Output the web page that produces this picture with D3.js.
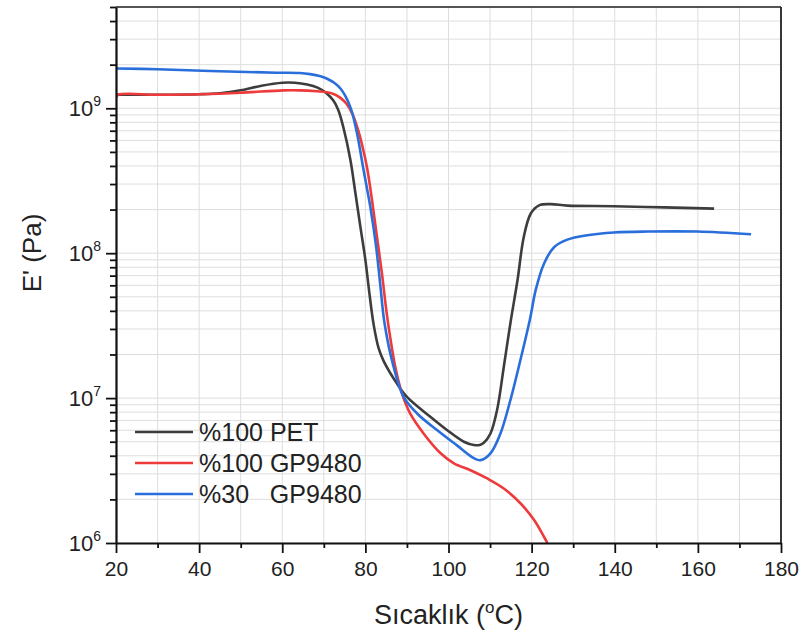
<!DOCTYPE html>
<html>
<head>
<meta charset="utf-8">
<script src="https://cdn.jsdelivr.net/npm/d3@7"></script>
<style>
  html, body { margin: 0; padding: 0; background: #fff; }
  svg { display: block; font-family: "Liberation Sans", Arial, sans-serif; }
  text { white-space: pre; }
</style>
</head>
<body>
<svg id="chart" width="803" height="634"></svg>
<script>
// Storage modulus E' (Pa) versus temperature (°C)
const seriesNames = ["%100 PET", "%100 GP9480", "%30   GP9480"];
const seriesColors = ["#3d3d3d", "#ee3a3a", "#2a6edb"];

const pet100 = [
  [20, 1.24e9], [30, 1.24e9], [40, 1.25e9], [45, 1.27e9], [50, 1.33e9], [55, 1.43e9],
  [60, 1.50e9], [63, 1.50e9], [66, 1.46e9], [68.5, 1.39e9], [70.5, 1.28e9], [72.3, 1.13e9],
  [73.5, 9.7e8], [74.7, 7.4e8], [76.4, 4.4e8], [77.6, 2.6e8], [78.8, 1.52e8], [80.0, 9.0e7],
  [81.0, 5.2e7], [82.0, 3.2e7], [83.2, 2.2e7], [84.4, 1.80e7], [87.6, 1.26e7], [90.0, 1.02e7],
  [95.7, 7.4e6], [99.7, 6.0e6], [103.7, 5.0e6], [106.1, 4.74e6], [107.5, 4.75e6], [108.5, 4.92e6],
  [110.1, 5.7e6], [111.7, 8.3e6], [113.3, 1.64e7], [114.9, 3.3e7], [116.6, 6.5e7],
  [118.1, 1.29e8], [119.8, 1.88e8], [121.8, 2.14e8], [124.6, 2.18e8], [128.6, 2.13e8],
  [139.8, 2.11e8], [151.9, 2.07e8], [163.9, 2.03e8]
];

const gp100 = [
  [20, 1.18e9], [20.5, 1.24e9], [30, 1.24e9], [40, 1.25e9], [50, 1.28e9], [60.3, 1.33e9],
  [64.3, 1.33e9], [68.4, 1.31e9], [70.8, 1.29e9], [72.5, 1.25e9], [74.0, 1.18e9], [75.5, 1.07e9],
  [77.0, 9.0e8], [78.3, 7.0e8], [79.4, 5.3e8], [80.4, 3.9e8], [81.6, 2.32e8], [82.8, 1.29e8],
  [84.0, 7.2e7], [85.1, 3.9e7], [86.0, 2.6e7], [87.2, 1.64e7], [88.8, 1.08e7], [90.8, 7.8e6],
  [94.0, 5.7e6], [98.1, 4.16e6], [101.3, 3.55e6], [105.3, 3.18e6], [109.3, 2.79e6], [113.3, 2.38e6],
  [117.3, 1.88e6], [120.6, 1.44e6], [123.0, 1.10e6], [123.8, 1.0e6]
];

const gp30 = [
  [20, 1.88e9], [30, 1.86e9], [42.7, 1.81e9], [58.7, 1.76e9], [64.3, 1.75e9], [66.7, 1.72e9],
  [69.0, 1.67e9], [70.8, 1.60e9], [72.5, 1.50e9], [74.0, 1.37e9], [75.3, 1.20e9], [76.6, 9.8e8],
  [78.0, 6.7e8], [79.6, 3.7e8], [81.2, 2.08e8], [82.6, 1.10e8], [83.6, 6.0e7], [84.6, 3.3e7],
  [86.8, 1.64e7], [89.2, 1.02e7], [92.5, 7.8e6], [97.3, 6.0e6], [102.1, 4.7e6], [106.1, 3.85e6],
  [107.7, 3.73e6], [110.1, 4.16e6], [112.5, 5.7e6], [114.9, 9.7e6], [117.3, 1.83e7],
  [119.6, 3.5e7], [121.0, 5.6e7], [123.0, 8.5e7], [125.4, 1.10e8], [128.6, 1.24e8],
  [133.4, 1.33e8], [139.8, 1.39e8], [147.9, 1.41e8], [159.9, 1.41e8], [172.8, 1.35e8]
];

const allSeries = [pet100, gp100, gp30];

const xTicks = [20, 40, 60, 80, 100, 120, 140, 160, 180];
const xMinorTicks = [30, 50, 70, 90, 110, 130, 150, 170];
const yDecades = [6, 7, 8, 9];

const svg = d3.select("#chart");
const margin = { left: 116, right: 22, top: 7, bottom: 91 };
const W = 803, H = 634;
const x0 = margin.left, x1 = W - margin.right;
const y0 = margin.top, y1 = H - margin.bottom;

const x = d3.scaleLinear().domain([20, 180]).range([x0, x1]);
const y = d3.scaleLog().domain([1e6, 5e9]).range([y1, y0]);

// minor values for the log axis: 2..9 × each decade, within domain
const yMinor = [];
yDecades.forEach(e => {
  for (let m = 2; m <= 9; m++) {
    const v = m * Math.pow(10, e);
    if (v <= 5e9) yMinor.push(v);
  }
});
const yMajor = yDecades.map(e => Math.pow(10, e));

// grid
const grid = svg.append("g").attr("stroke", "#dedede").attr("stroke-width", 1);
xTicks.concat(xMinorTicks).forEach(v => {
  grid.append("line").attr("x1", x(v)).attr("x2", x(v)).attr("y1", y0).attr("y2", y1);
});
yMajor.concat(yMinor).forEach(v => {
  grid.append("line").attr("x1", x0).attr("x2", x1).attr("y1", y(v)).attr("y2", y(v));
});

// curves
const line = d3.line()
  .x(d => x(d[0]))
  .y(d => y(d[1]))
  .curve(d3.curveCatmullRom.alpha(0.5));

svg.append("clipPath").attr("id", "plotclip")
  .append("rect").attr("x", x0).attr("y", y0).attr("width", x1 - x0).attr("height", y1 - y0);

svg.append("g").attr("clip-path", "url(#plotclip)")
  .selectAll("path")
  .data(allSeries)
  .join("path")
  .attr("d", line)
  .attr("fill", "none")
  .attr("stroke", (d, i) => seriesColors[i])
  .attr("stroke-width", 2.6)
  .attr("stroke-linejoin", "round");

// frame
svg.append("line").attr("x1", x0).attr("x2", x1).attr("y1", y0).attr("y2", y0)
  .attr("stroke", "#222").attr("stroke-width", 1.6);
svg.append("line").attr("x1", x1).attr("x2", x1).attr("y1", y0).attr("y2", y1)
  .attr("stroke", "#222").attr("stroke-width", 1.8);

// x axis
const xAxis = svg.append("g").attr("transform", `translate(0,${y1})`)
  .call(d3.axisBottom(x).tickValues(xTicks).tickSize(10).tickSizeOuter(0).tickFormat(d3.format("d")));
svg.append("g").attr("transform", `translate(0,${y1})`)
  .call(d3.axisBottom(x).tickValues(xMinorTicks).tickSize(5).tickSizeOuter(0).tickFormat(""))
  .call(g => g.select(".domain").remove());
xAxis.selectAll("text").attr("font-size", 21).attr("fill", "#222").attr("dy", "0.95em")
  .style("font-family", "'Liberation Sans', Arial, sans-serif");

// y axis
const yAxis = svg.append("g").attr("transform", `translate(${x0},0)`)
  .call(d3.axisLeft(y).tickValues(yMajor).tickSize(10).tickSizeOuter(0).tickFormat(""));
svg.append("g").attr("transform", `translate(${x0},0)`)
  .call(d3.axisLeft(y).tickValues(yMinor).tickSize(6).tickSizeOuter(0).tickFormat(""))
  .call(g => g.select(".domain").remove());

[xAxis, yAxis].forEach(g => {
  g.select(".domain").attr("stroke", "#111").attr("stroke-width", 2.2);
});
svg.selectAll(".tick line").attr("stroke", "#111").attr("stroke-width", 1.8);

// y tick labels as powers of ten
const yLab = svg.append("g");
yDecades.forEach(e => {
  const t = yLab.append("text")
    .attr("x", x0 - 15).attr("y", y(Math.pow(10, e)) + 8)
    .attr("text-anchor", "end").attr("font-size", 22).attr("fill", "#222");
  t.append("tspan").text("10");
  t.append("tspan").attr("font-size", 14).attr("dy", -10).text(String(e));
});

// axis titles
const xt = svg.append("text")
  .attr("x", (x0 + x1) / 2).attr("y", 624)
  .attr("text-anchor", "middle").attr("font-size", 27).attr("fill", "#222");
xt.append("tspan").text("Sıcaklık (");
xt.append("tspan").attr("font-size", 17).attr("dy", -11).text("o");
xt.append("tspan").attr("dy", 11).text("C)");

svg.append("text")
  .attr("transform", `translate(41,253) rotate(-90)`)
  .attr("text-anchor", "middle").attr("font-size", 26).attr("fill", "#222")
  .text("E' (Pa)");

// legend
const legend = svg.append("g");
const legendY = [432, 463, 494];
seriesNames.forEach((name, i) => {
  legend.append("line")
    .attr("x1", 135).attr("x2", 193)
    .attr("y1", legendY[i]).attr("y2", legendY[i])
    .attr("stroke", seriesColors[i]).attr("stroke-width", 2.6);
  legend.append("text")
    .attr("x", 199).attr("y", legendY[i] + 8.5)
    .attr("font-size", 25).attr("fill", "#222")
    .text(name);
});
</script>
</body>
</html>
